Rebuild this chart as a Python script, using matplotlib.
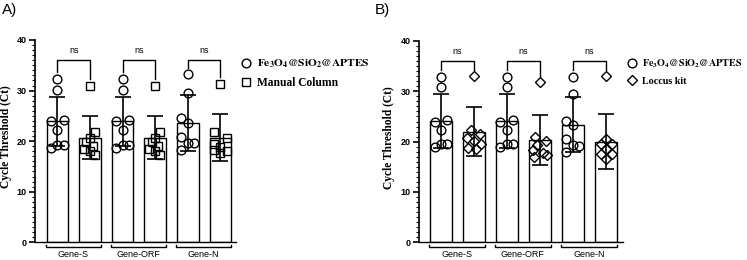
import numpy as np
import matplotlib
matplotlib.use("Agg")
import matplotlib.pyplot as plt
from matplotlib.lines import Line2D
from matplotlib.ticker import MultipleLocator

plt.rcParams['font.family'] = ['Liberation Sans', 'DejaVu Sans']
plt.rcParams['mathtext.fontset'] = 'stix'

genes = ['Gene-S', 'Gene-ORF', 'Gene-N']

# panel A: Fe3O4@SiO2@APTES vs Manual Column
a_fe_mean = [23.9, 23.9, 23.6]
a_fe_sd = [4.9, 4.9, 5.5]
a_fe_pts = [
    [32.3, 30.1, 23.9, 24.1, 22.2, 18.7, 19.2, 19.3],
    [32.3, 30.1, 23.9, 24.1, 22.2, 18.7, 19.2, 19.3],
    [33.2, 29.5, 24.5, 23.6, 20.9, 19.6, 19.6, 18.3],
]
a_mc_mean = [20.7, 20.7, 20.7]
a_mc_sd = [4.3, 4.3, 4.6]
a_mc_pts = [
    [31.0, 21.9, 20.6, 19.8, 19.0, 18.4, 18.0, 17.3],
    [31.0, 21.9, 20.6, 19.8, 19.0, 18.4, 18.0, 17.3],
    [31.3, 21.8, 20.6, 19.4, 18.9, 18.2, 18.0, 17.6],
]

# panel B: Fe3O4@SiO2@APTES vs Loccus kit
b_fe_mean = [24.1, 24.1, 23.4]
b_fe_sd = [5.3, 5.3, 5.4]
b_fe_pts = [
    [32.9, 30.8, 23.9, 24.4, 22.4, 18.9, 19.5, 19.5],
    [32.9, 30.8, 23.9, 24.4, 22.4, 18.9, 19.5, 19.5],
    [32.9, 29.5, 24.2, 23.4, 20.6, 19.3, 19.2, 18.0],
]
b_lk_mean = [22.0, 20.3, 20.0]
b_lk_sd = [4.95, 5.0, 5.45]
b_lk_pts = [
    [33.0, 22.3, 21.6, 20.7, 20.1, 19.5, 18.7, 18.5],
    [31.8, 20.9, 20.2, 19.3, 18.3, 17.8, 17.3, 17.0],
    [33.0, 20.5, 19.5, 19.5, 18.5, 17.5, 17.5, 16.5],
]

# horizontal scatter of the points inside each bar
jit_fe = [0, 0, -0.2, 0.19, 0, -0.2, 0, 0.19]
jit_fe_n = [0, 0, -0.21, 0, -0.21, 0, 0.19, -0.21]
jit_sq = [0, 0.14, 0, -0.11, 0.08, -0.18, 0, 0.16]
jit_sq_n = [0, -0.18, 0.2, -0.18, 0, -0.18, 0.2, 0]
jit_dm = [0, -0.1, 0.18, -0.2, 0, 0.2, -0.18, 0.05]
jit_dm_o = [0, -0.14, 0.18, -0.1, -0.2, 0.1, 0.22, -0.18]
jit_dm_n = [0, 0, -0.15, 0.17, 0, -0.15, 0.17, 0]

fig = plt.figure(figsize=(7.47, 2.6), dpi=100)
W, H = 747.0, 260.0


def panel(ax, m1, s1, p1, m2, s2, p2, mk2, ms2, jit1, jit2, xlim, lab_x):
    bw = 0.66
    for g in range(3):
        x1, x2 = 2 * g, 2 * g + 1
        ax.bar([x1, x2], [m1[g], m2[g]], width=bw, color='white',
               edgecolor='black', linewidth=1.0, zorder=1)
        ax.errorbar([x1, x2], [m1[g], m2[g]], yerr=[s1[g], s2[g]], fmt='none',
                    ecolor='black', elinewidth=1.2, capsize=6, capthick=1.2, zorder=2)
        ax.plot(x1 + np.array(jit1[g]), p1[g], 'o', mfc='none', mec='black',
                mew=1.0, ms=6.3, zorder=3)
        ax.plot(x2 + np.array(jit2[g]), p2[g], mk2, mfc='none', mec='black',
                mew=1.0, ms=ms2, zorder=3)
        # significance bracket
        top = 36.0
        ax.plot([x1, x1, x2, x2], [max(p1[g]) + 1.3, top, top, max(p2[g]) + 1.3],
                color='black', lw=1.0, zorder=2)
        ax.text((x1 + x2) / 2, 37.0, 'ns', ha='center', va='bottom', fontsize=6.5)
        # group label
        ax.plot([x1 - 0.36, x1 - 0.36, x2 + 0.33, x2 + 0.33], [-0.45, -0.95, -0.95, -0.45],
                color='black', lw=1.0, clip_on=False)
        ax.text((x1 + x2) / 2 - 0.02, -1.6, genes[g], ha='center', va='top', fontsize=6.5)
    ax.set_xlim(*xlim)
    ax.set_ylim(0, 40)
    ax.set_yticks([0, 10, 20, 30, 40])
    ax.yaxis.set_minor_locator(MultipleLocator(1))
    ax.tick_params(axis='y', which='major', length=4, width=1.2, labelsize=6.5, pad=2)
    ax.tick_params(axis='y', which='minor', length=2, width=0.8)
    for t in ax.get_yticklabels():
        t.set_fontweight('bold')
    ax.set_xticks([])
    ax.spines['top'].set_visible(False)
    ax.spines['right'].set_visible(False)
    ax.spines['left'].set_linewidth(1.2)
    ax.spines['bottom'].set_linewidth(1.0)
    ax.set_ylabel('Cycle Threshold (Ct)', family='Liberation Serif', fontweight='bold',
                  fontsize=8.3)
    ax.yaxis.set_label_coords(lab_x, 0.52)


axA = fig.add_axes([35 / W, 17.7 / H, 201 / W, 202.3 / H])
panel(axA, a_fe_mean, a_fe_sd, a_fe_pts,
      a_mc_mean, a_mc_sd, a_mc_pts, 's', 5.8,
      [jit_fe, jit_fe, jit_fe_n], [jit_sq, jit_sq, jit_sq_n], (-0.69, 5.48), -0.115)

axB = fig.add_axes([419 / W, 17.7 / H, 203.5 / W, 201.3 / H])
panel(axB, b_fe_mean, b_fe_sd, b_fe_pts,
      b_lk_mean, b_lk_sd, b_lk_pts, 'D', 4.8,
      [jit_fe, jit_fe, jit_fe_n], [jit_dm, jit_dm_o, jit_dm_n], (-0.67, 5.5), -0.118)

fe_label = r'$\mathbf{Fe_3O_4@SiO_2@APTES}$'
for x0, lab2, mk2, ms2, fs1, fs2 in [(241, 'Manual Column', 's', 5.8, 8.2, 8.3),
                                      (628, 'Loccus kit', 'D', 4.8, 7.3, 7.3)]:
    h1 = Line2D([], [], marker='o', ls='none', mfc='none', mec='black', mew=1.0, ms=6.3)
    h2 = Line2D([], [], marker=mk2, ls='none', mfc='none', mec='black', mew=1.0, ms=ms2)
    leg = fig.legend([h1, h2], [fe_label, lab2], loc='upper left',
                     bbox_to_anchor=(x0 / W, 1 - 58 / H), frameon=False,
                     handlelength=0.8, handletextpad=0.6, labelspacing=0.6,
                     borderaxespad=0, borderpad=0,
                     prop={'family': 'Liberation Serif', 'weight': 'bold', 'size': fs1})
    leg.get_texts()[1].set_fontsize(fs2)

fig.text(2 / W, 1 - 3 / H, 'A)', ha='left', va='top', fontsize=11)
fig.text(375 / W, 1 - 3 / H, 'B)', ha='left', va='top', fontsize=11)

fig.savefig('out.png', dpi=100)
